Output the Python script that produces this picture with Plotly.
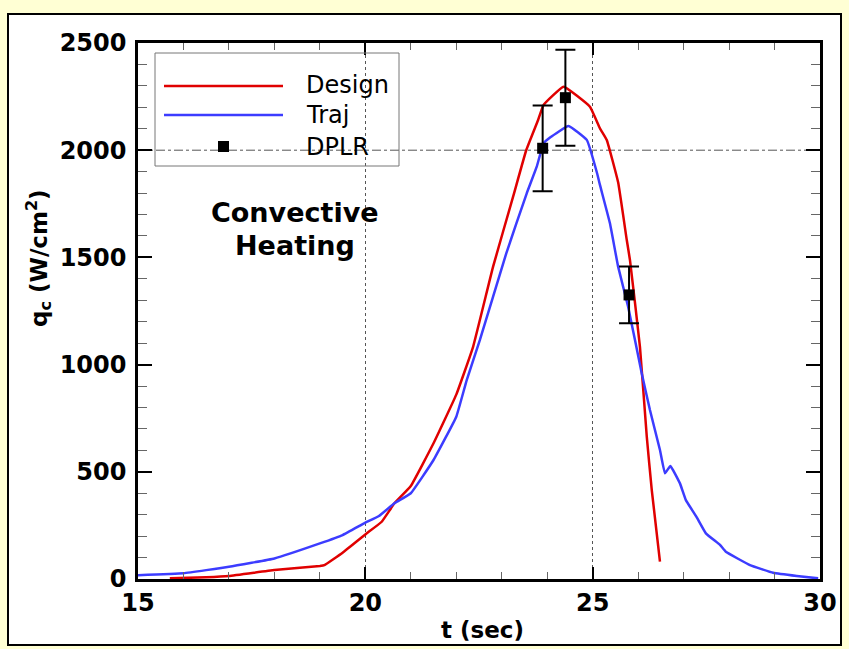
import plotly.graph_objects as go

# ---- data ----
design_t = [15.7, 16.5, 17.0, 18.0, 19.0, 19.1, 19.5, 20.0, 20.36, 20.64, 21.0, 21.5, 22.0,
            22.37, 22.81, 23.25, 23.54, 23.8, 23.92, 24.36, 24.94, 25.16, 25.31, 25.56,
            25.75, 25.82, 26.04, 26.19, 26.3, 26.48]
design_q = [3, 8, 14, 42, 61, 65, 123, 208, 267, 353, 434, 633, 860,
            1083, 1457, 1783, 2001, 2141, 2211, 2296, 2203, 2102, 2048, 1850,
            1581, 1488, 1083, 664, 415, 81]

traj_t = [15.0, 16.0, 17.0, 18.0, 19.0, 19.5, 20.0, 20.3, 20.64, 21.0, 21.5, 22.0, 22.23,
          22.52, 23.1, 23.55, 23.77, 23.92, 24.07, 24.47, 24.87, 25.1, 25.16, 25.38,
          25.56, 25.78, 26.08, 26.26, 26.48, 26.59, 26.71, 26.92, 27.05, 27.28, 27.49,
          27.8, 27.93, 28.46, 28.97, 29.49, 29.96]
traj_q = [18, 27, 57, 96, 166, 205, 263, 294, 353, 400, 555, 757, 928,
          1115, 1519, 1799, 1923, 2032, 2060, 2113, 2048, 1890, 1838, 1659,
          1457, 1270, 959, 788, 602, 493, 527, 446, 368, 291, 213,
          159, 127, 65, 29, 14, 3]

dplr_t = [23.9, 24.4, 25.8]
dplr_q = [2009, 2245, 1325]
dplr_err = [200, 224, 132]

legend_names = ["Design", "Traj", "DPLR"]
x_tickvals = [15, 20, 25, 30]
y_tickvals = [0, 500, 1000, 1500, 2000, 2500]

RED = "#E00000"
BLUE = "#3C3CFF"
YELLOW = "#FFFFD4"
FONT = "DejaVu Sans"

W, H = 849, 649
L, R, T, B = 138, 820, 43, 579   # plot area in pixels


def px(x):
    return (x - L) / (R - L)


def py(y):
    return (B - y) / (B - T)


fig = go.Figure()

fig.add_trace(go.Scatter(x=design_t, y=design_q, mode="lines",
                         line=dict(color=RED, width=2.5, shape="spline", smoothing=0.3),
                         name=legend_names[0], showlegend=False))
fig.add_trace(go.Scatter(x=traj_t, y=traj_q, mode="lines",
                         line=dict(color=BLUE, width=2.5, shape="spline", smoothing=0.3),
                         name=legend_names[1], showlegend=False))
fig.add_trace(go.Scatter(x=dplr_t, y=dplr_q, mode="markers",
                         marker=dict(symbol="square", size=11, color="black"),
                         error_y=dict(type="data", array=dplr_err, visible=True,
                                      color="black", thickness=2, width=10),
                         name=legend_names[2], showlegend=False))

fig.add_hline(y=2000, line=dict(color="#555555", width=1, dash="dashdot"), layer="below")

# yellow page margins outside the white frame, and the frame border
for (ax0, ax1, ay0, ay1) in [(0, 8, 0, H), (841, W, 0, H), (0, W, 0, 14), (0, W, 645, H)]:
    fig.add_shape(type="rect", xref="paper", yref="paper",
                  x0=px(ax0), x1=px(ax1), y0=py(ay1), y1=py(ay0),
                  fillcolor=YELLOW, line=dict(width=0))
fig.add_shape(type="rect", xref="paper", yref="paper",
              x0=px(8), x1=px(841), y0=py(645), y1=py(14),
              fillcolor="rgba(0,0,0,0)", line=dict(color="black", width=2))

# legend box and samples
fig.add_shape(type="rect", xref="paper", yref="paper",
              x0=px(155), x1=px(399), y0=py(166), y1=py(53),
              fillcolor="rgba(0,0,0,0)", line=dict(color="#777777", width=1))
fig.add_shape(type="line", xref="paper", yref="paper",
              x0=px(164), x1=px(283), y0=py(86), y1=py(86),
              line=dict(color=RED, width=2.5))
fig.add_shape(type="line", xref="paper", yref="paper",
              x0=px(164), x1=px(283), y0=py(115), y1=py(115),
              line=dict(color=BLUE, width=2.5))
fig.add_shape(type="rect", xref="paper", yref="paper",
              x0=px(218), x1=px(229), y0=py(152), y1=py(141),
              fillcolor="black", line=dict(color="black", width=0))

for name, yy in zip(legend_names, [85, 115, 147]):
    fig.add_annotation(text=name, xref="paper", yref="paper", x=px(304), y=py(yy),
                       xanchor="left", yanchor="middle", showarrow=False,
                       font=dict(family=FONT, size=24, color="black"))

fig.add_annotation(text="<b>Convective</b>", xref="paper", yref="paper", x=px(295), y=py(212),
                   xanchor="center", yanchor="middle", showarrow=False,
                   font=dict(family=FONT, size=27, color="black"))
fig.add_annotation(text="<b>Heating</b>", xref="paper", yref="paper", x=px(295), y=py(246),
                   xanchor="center", yanchor="middle", showarrow=False,
                   font=dict(family=FONT, size=27, color="black"))
fig.add_annotation(text="<b>t (sec)</b>", xref="paper", yref="paper", x=px(482), y=py(630),
                   xanchor="center", yanchor="middle", showarrow=False,
                   font=dict(family=FONT, size=23, color="black"))
fig.add_annotation(text="<b>q<sub>c</sub> (W/cm<sup>2</sup>)</b>", xref="paper", yref="paper",
                   x=px(38), y=py(258), textangle=-90,
                   xanchor="center", yanchor="middle", showarrow=False,
                   font=dict(family=FONT, size=23, color="black"))

fig.update_layout(
    width=W, height=H,
    margin=dict(l=L, r=W - R, t=T, b=H - B, autoexpand=False),
    paper_bgcolor="white",
    plot_bgcolor="white",
    showlegend=False,
    font=dict(family=FONT, size=24, color="black"),
)

fig.update_xaxes(
    range=[15, 30], tickvals=x_tickvals, ticktext=[f"<b>{v}</b>" for v in x_tickvals],
    showline=True, linecolor="black", linewidth=2.5, mirror="allticks",
    ticks="inside", ticklen=12, tickwidth=2, tickcolor="black",
    minor=dict(dtick=1, ticks="inside", ticklen=7, tickwidth=1, tickcolor="#666666",
               showgrid=False),
    showgrid=True, gridcolor="#555555", griddash="dot", gridwidth=1,
    zeroline=False, tickfont=dict(family=FONT, size=24, color="black"),
)
fig.update_yaxes(
    range=[0, 2500], tickvals=y_tickvals, ticktext=[f"<b>{v}</b>" for v in y_tickvals],
    showline=True, linecolor="black", linewidth=2.5, mirror="allticks",
    ticks="inside", ticklen=14, tickwidth=2, tickcolor="black",
    minor=dict(dtick=100, ticks="inside", ticklen=9, tickwidth=1, tickcolor="#666666",
               showgrid=False),
    showgrid=False, zeroline=False, ticklabelstandoff=4,
    tickfont=dict(family=FONT, size=24, color="black"),
)

fig.write_html("out.html",
               config={"displayModeBar": False},
               post_script="document.body.style.margin='0';"
                           "document.body.style.overflow='hidden';")
